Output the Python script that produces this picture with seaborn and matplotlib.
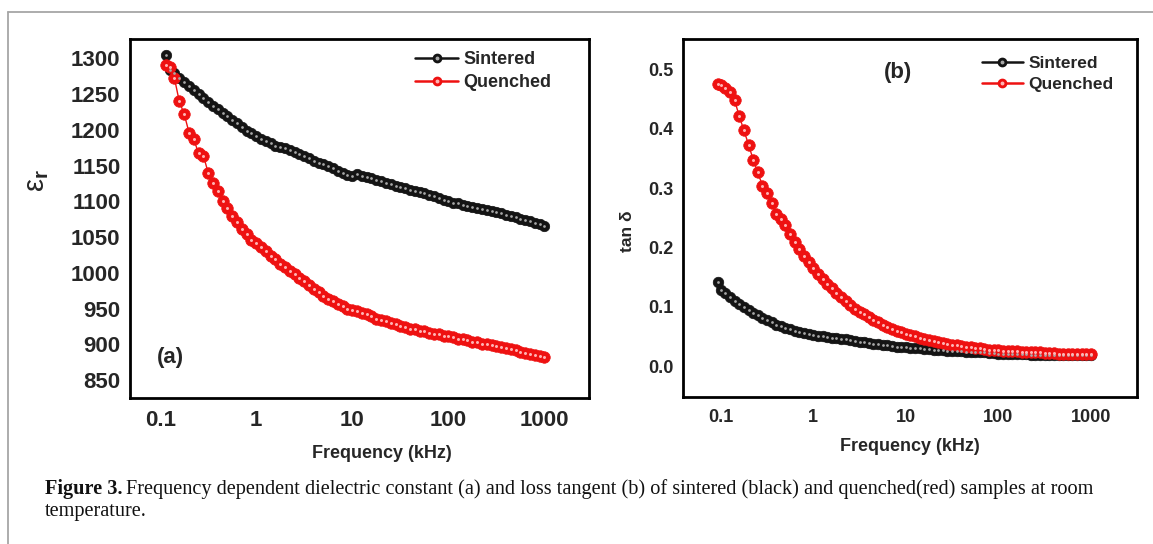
import matplotlib
matplotlib.use("Agg")
import matplotlib.pyplot as plt
import seaborn as sns
from matplotlib.lines import Line2D
from matplotlib.legend_handler import HandlerTuple
from matplotlib.ticker import FixedLocator, FixedFormatter, NullLocator

# ---------------- data ----------------
DECADE_STEPS = [1.00, 1.12, 1.26, 1.41, 1.58, 1.78, 2.00, 2.24, 2.51, 2.82,
                3.16, 3.55, 3.98, 4.47, 5.01, 5.62, 6.31, 7.08, 7.94, 8.91]
DECADES = [0.1, 1, 10, 100]
GRID = [round(m * d, 4) for d in DECADES for m in DECADE_STEPS] + [1000.0]
FREQ_A = [0.115] + [f for f in GRID if f > 0.12]     # kHz, panel (a)
FREQ_B = [0.094] + GRID                               # kHz, panel (b)

SINTERED_EPS = [1305, 1284, 1279, 1273, 1267, 1261, 1255, 1250, 1244, 1239,
                1234, 1229, 1224, 1219, 1214, 1209, 1204, 1199, 1195,
                1191, 1187, 1184, 1181, 1178, 1176, 1174, 1172, 1169, 1166,
                1163, 1160, 1157, 1154, 1152, 1149, 1146, 1143, 1140, 1137,
                1135, 1138, 1136, 1134, 1132, 1130, 1128, 1126, 1124, 1122,
                1120, 1118, 1116, 1114, 1113, 1111, 1109, 1107, 1104, 1102,
                1100, 1098, 1097, 1095, 1094, 1092, 1091, 1089, 1088, 1086,
                1085, 1083, 1081, 1079, 1078, 1076, 1074, 1072, 1070, 1068,
                1065]
QUENCHED_EPS = [1290, 1288, 1272, 1240, 1222, 1196, 1187, 1167, 1164, 1140,
                1126, 1115, 1100, 1090, 1080, 1071, 1062, 1054, 1046,
                1042, 1036, 1030, 1024, 1019, 1013, 1008, 1003, 998, 993,
                988, 983, 978, 973, 968, 964, 960, 956, 953, 950,
                948, 946, 944, 942, 939, 936, 934, 932, 930, 928,
                926, 924, 922, 921, 919, 918, 916, 915, 914, 912,
                911, 910, 908, 907, 906, 904, 903, 901, 900, 899,
                898, 896, 895, 893, 892, 890, 888, 887, 885, 884,
                883]
SINTERED_TAN = [0.141,
                0.128, 0.123, 0.116, 0.110, 0.104, 0.099, 0.094, 0.090, 0.086, 0.081,
                0.077, 0.074, 0.070, 0.067, 0.064, 0.062, 0.060, 0.058, 0.056, 0.054,
                0.052, 0.051, 0.050, 0.049, 0.048, 0.047, 0.046, 0.045, 0.044, 0.042,
                0.041, 0.040, 0.039, 0.038, 0.037, 0.036, 0.035, 0.034, 0.033, 0.033,
                0.032, 0.031, 0.031, 0.030, 0.029, 0.029, 0.028, 0.027, 0.027, 0.026,
                0.026, 0.025, 0.025, 0.024, 0.024, 0.023, 0.023, 0.023, 0.022, 0.022,
                0.021, 0.021, 0.021, 0.020, 0.020, 0.020, 0.020, 0.019, 0.019, 0.019,
                0.019, 0.019, 0.019, 0.019, 0.019, 0.019, 0.019, 0.019, 0.019, 0.019,
                0.019]
QUENCHED_TAN = [0.476,
                0.474, 0.469, 0.462, 0.448, 0.422, 0.397, 0.373, 0.348, 0.327, 0.304,
                0.291, 0.274, 0.256, 0.248, 0.238, 0.222, 0.209, 0.197, 0.186, 0.176,
                0.166, 0.156, 0.147, 0.139, 0.131, 0.124, 0.117, 0.110, 0.103, 0.097,
                0.092, 0.087, 0.082, 0.078, 0.074, 0.070, 0.066, 0.063, 0.060, 0.057,
                0.054, 0.052, 0.050, 0.048, 0.046, 0.044, 0.042, 0.040, 0.039, 0.037,
                0.036, 0.035, 0.034, 0.033, 0.032, 0.031, 0.030, 0.029, 0.028, 0.028,
                0.027, 0.026, 0.026, 0.025, 0.025, 0.024, 0.024, 0.023, 0.023, 0.023,
                0.022, 0.022, 0.022, 0.021, 0.021, 0.021, 0.021, 0.020, 0.020, 0.020,
                0.020]

SERIES_NAMES = ["Sintered", "Quenched"]
X_TICKS = [0.1, 1, 10, 100, 1000]
X_TICK_LABELS = ["0.1", "1", "10", "100", "1000"]
EPS_TICKS = [850, 900, 950, 1000, 1050, 1100, 1150, 1200, 1250, 1300]
TAN_TICKS = [0.0, 0.1, 0.2, 0.3, 0.4, 0.5]
TAN_TICK_LABELS = ["0.0", "0.1", "0.2", "0.3", "0.4", "0.5"]
CAPTION_BOLD = "Figure 3."
CAPTION_LINE1 = ("Frequency dependent dielectric constant (a) and loss tangent (b) "
                 "of sintered (black) and quenched(red) samples at room")
CAPTION_LINE2 = "temperature."

# ---------------- style ----------------
sns.set_style("white")
plt.rcParams["font.family"] = ["Liberation Sans", "DejaVu Sans"]
plt.rcParams["mathtext.fontset"] = "custom"
plt.rcParams["mathtext.rm"] = "Liberation Sans:bold"

W, H = 1153, 544
fig = plt.figure(figsize=(W / 100, H / 100), dpi=100)
fig.patch.set_facecolor("white")

COLORS = {"Sintered": ("#141414", "#a8a8a8"), "Quenched": ("#ee1111", "#ffb4b4")}


def draw_series(ax, x, y, name, ms):
    face, hl = COLORS[name]
    sns.lineplot(x=x, y=y, ax=ax, color=face, linewidth=1.0, marker="o",
                 markersize=ms, markeredgecolor=face, markeredgewidth=0.5,
                 markerfacecolor=face, estimator=None, sort=False)
    sns.scatterplot(x=x, y=y, ax=ax, color=hl, s=(ms * 0.26) ** 2,
                    linewidth=0, zorder=5)


def style_axes(ax, ylim, xlim, yticks, ylabels, ysize, xsize):
    ax.set_xscale("log")
    ax.set_xlim(*xlim)
    ax.set_ylim(*ylim)
    ax.xaxis.set_major_locator(FixedLocator(X_TICKS))
    ax.xaxis.set_major_formatter(FixedFormatter(X_TICK_LABELS))
    ax.xaxis.set_minor_locator(NullLocator())
    ax.yaxis.set_major_locator(FixedLocator(yticks))
    ax.yaxis.set_major_formatter(FixedFormatter(ylabels))
    ax.yaxis.set_minor_locator(NullLocator())
    for sp in ax.spines.values():
        sp.set_visible(True)
        sp.set_linewidth(2.0)
        sp.set_color("black")
    ax.tick_params(axis="both", direction="out", length=5, width=2, color="black")
    ax.tick_params(axis="y", labelsize=ysize, pad=2)
    ax.tick_params(axis="x", labelsize=xsize, pad=4)
    for lab in ax.get_xticklabels() + ax.get_yticklabels():
        lab.set_fontweight("bold")
    ax.grid(False)


def add_legend(ax, anchor, size, ms):
    handles = []
    for name in SERIES_NAMES:
        face, hl = COLORS[name]
        h1 = Line2D([], [], color=face, lw=1.8, marker="o", markersize=ms,
                    markerfacecolor=face, markeredgecolor=face)
        h2 = Line2D([], [], ls="", marker="o", markersize=ms * 0.3, color=hl)
        handles.append((h1, h2))
    ax.legend(handles, SERIES_NAMES,
              handler_map={tuple: HandlerTuple(ndivide=1, pad=0)},
              loc="upper left", bbox_to_anchor=anchor, frameon=False,
              prop={"weight": "bold", "size": size}, handlelength=2.4,
              handletextpad=0.3, labelspacing=0.35, borderpad=0, borderaxespad=0)


# ---------------- panel (a) ----------------
axA = fig.add_axes([130.2 / W, 1 - 398 / H, (589.1 - 130.2) / W, (398 - 39) / H])
draw_series(axA, FREQ_A, SINTERED_EPS, "Sintered", 7.5)
draw_series(axA, FREQ_A, QUENCHED_EPS, "Quenched", 8.3)
style_axes(axA, (825, 1327), (0.0488, 2914), EPS_TICKS, [str(t) for t in EPS_TICKS], 16, 16)
axA.set_xlabel("Frequency (kHz)", fontsize=13, fontweight="bold")
axA.xaxis.set_label_coords(0.549, -0.13)
axA.set_ylabel("ε$_{\\mathrm{r}}$", fontsize=21)
axA.yaxis.set_label_coords(-0.172, 0.607)
axA.text(0.0867, 0.114, "(a)", transform=axA.transAxes, fontsize=16,
         fontweight="bold", ha="center", va="center")
add_legend(axA, (0.6206, 0.9666), 13, 6.0)

# ---------------- panel (b) ----------------
axB = fig.add_axes([683.4 / W, 1 - 397 / H, (1136.5 - 683.4) / W, (397 - 39) / H])
draw_series(axB, FREQ_B, SINTERED_TAN, "Sintered", 7.6)
draw_series(axB, FREQ_B, QUENCHED_TAN, "Quenched", 8.3)
style_axes(axB, (-0.052, 0.551), (0.0395, 3112), TAN_TICKS, TAN_TICK_LABELS, 13, 13)
axB.set_xlabel("Frequency (kHz)", fontsize=13, fontweight="bold")
axB.xaxis.set_label_coords(0.5, -0.115)
axB.set_ylabel("tan δ", fontsize=12.5, fontweight="bold")
axB.yaxis.set_label_coords(-0.106, 0.462)
axB.text(0.473, 0.907, "(b)", transform=axB.transAxes, fontsize=16,
         fontweight="bold", ha="center", va="center")
add_legend(axB, (0.658, 0.9525), 12.5, 6.0)

# ---------------- frame and caption ----------------
frame_col = "#a6a6a6"
fig.add_artist(Line2D([8 / W, 1.0], [1 - 12 / H, 1 - 12 / H], transform=fig.transFigure,
                      color=frame_col, lw=1.3))
fig.add_artist(Line2D([8 / W, 8 / W], [0.0, 1 - 12 / H], transform=fig.transFigure,
                      color=frame_col, lw=1.3))

serif = ["Liberation Serif", "DejaVu Serif"]
cap_left, cap_right = 45.0, 1095.0
fig.canvas.draw()
renderer = fig.canvas.get_renderer()


def caption_width(size):
    a = fig.text(0, 0, CAPTION_BOLD, family=serif, fontweight="bold", fontsize=size)
    b = fig.text(0, 0, CAPTION_LINE1, family=serif, fontsize=size)
    w = a.get_window_extent(renderer).width + 4 + b.get_window_extent(renderer).width
    a.remove()
    b.remove()
    return w


cap_size = 13.5
cap_size *= (cap_right - cap_left) / caption_width(cap_size)

t1 = fig.text(cap_left / W, 1 - 494 / H, CAPTION_BOLD, family=serif, fontweight="bold",
              fontsize=cap_size, va="baseline", ha="left", color="#111111")
bb = t1.get_window_extent(renderer)
fig.text((bb.x1 + 4) / W, 1 - 494 / H, CAPTION_LINE1, family=serif,
         fontsize=cap_size, va="baseline", ha="left", color="#111111")
fig.text(cap_left / W, 1 - 516 / H, CAPTION_LINE2, family=serif, fontsize=cap_size,
         va="baseline", ha="left", color="#111111")

fig.savefig("out.png", dpi=100, facecolor="white")
